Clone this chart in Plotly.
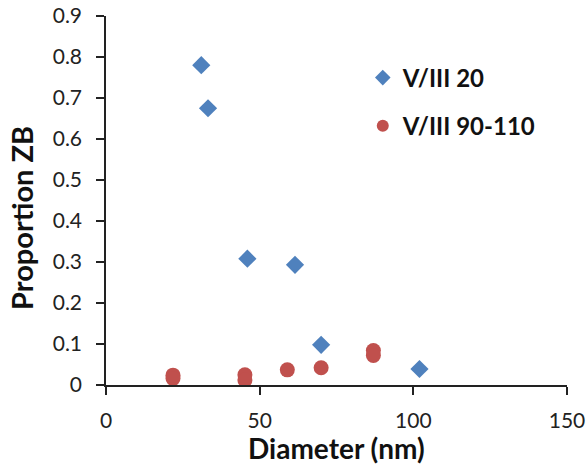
import plotly.graph_objects as go

blue_x = [31, 33.2, 46, 61.5, 70, 102]
blue_y = [0.78, 0.675, 0.308, 0.293, 0.098, 0.039]
red_x = [21.8, 21.8, 45.2, 45.2, 59, 70, 87, 87]
red_y = [0.024, 0.016, 0.025, 0.012, 0.037, 0.042, 0.084, 0.072]

font = "Lato"
fig = go.Figure()
fig.add_trace(go.Scatter(x=blue_x, y=blue_y, mode="markers", name="V/III 20", legendgroup="a",
                         marker=dict(symbol="diamond", size=14, color="#4F81BD")))
fig.add_trace(go.Scatter(x=red_x, y=red_y, mode="markers", name="V/III 90-110", legendgroup="b",
                         marker=dict(symbol="circle", size=15, color="#C0504D")))

fig.update_layout(
    width=587, height=466,
    margin=dict(l=106, r=20, t=16, b=81),
    paper_bgcolor="white", plot_bgcolor="white",
    font=dict(family=font, size=21, color="#222"),
    showlegend=True,
    legend=dict(x=0.557, y=0.893, xanchor="left", yanchor="top",
                font=dict(family=font, size=24, color="#111", weight="bold"),
                bgcolor="rgba(0,0,0,0)", itemsizing="constant",
                tracegroupgap=14, itemwidth=30),
    xaxis=dict(range=[0, 150], tickvals=[0, 50, 100, 150], showgrid=False, automargin=False,
               zeroline=False, showline=True, linecolor="#222", linewidth=1.5,
               ticks="outside", ticklen=8, tickcolor="#222", tickwidth=1.5,
               ticklabelstandoff=8),
    yaxis=dict(range=[0, 0.9], tickvals=[0, 0.1, 0.2, 0.3, 0.4, 0.5, 0.6, 0.7, 0.8, 0.9],
               ticktext=["0", "0.1", "0.2", "0.3", "0.4", "0.5", "0.6", "0.7", "0.8", "0.9"],
               showgrid=False, zeroline=False, showline=True, linecolor="#222", linewidth=1.5,
               ticks="outside", ticklen=8, tickcolor="#222", tickwidth=1.5, automargin=False,
               ticklabelstandoff=10),
    annotations=[
        dict(text="<b>Diameter (nm)</b>", xref="paper", yref="paper", x=0.5, y=-0.172,
             xanchor="center", yanchor="middle", showarrow=False,
             font=dict(family=font, size=28, color="#111")),
        dict(text="<b>Proportion ZB</b>", xref="paper", yref="paper", x=-0.182, y=0.453,
             xanchor="center", yanchor="middle", showarrow=False, textangle=-90,
             font=dict(family=font, size=29, color="#111")),
    ],
)
fig.write_html("out.html")
